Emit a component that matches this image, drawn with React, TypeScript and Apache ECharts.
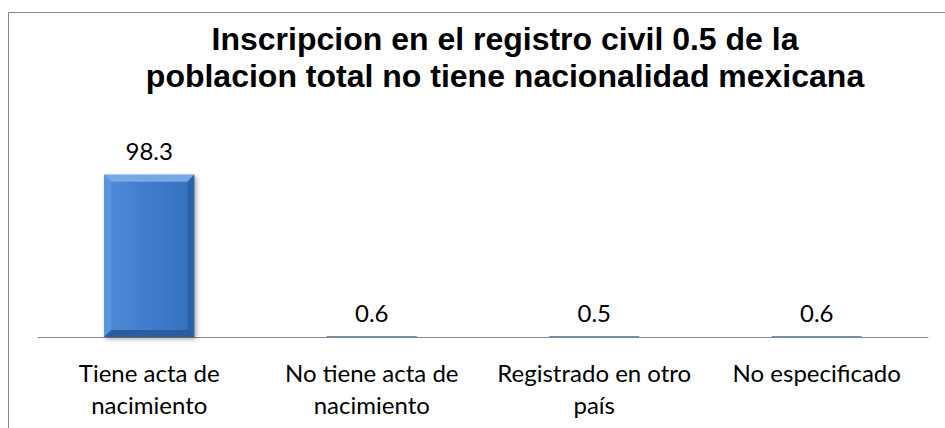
import React, { useEffect, useRef } from "react";
import * as echarts from "echarts";

const titleText = "Inscripcion en el registro civil 0.5 de la\npoblacion total no tiene nacionalidad mexicana";
const categories = [
  "Tiene acta de\nnacimiento",
  "No tiene acta de\nnacimiento",
  "Registrado en otro\npaís",
  "No especificado",
];
const values = [98.3, 0.6, 0.5, 0.6];

export default function App() {
  const ref = useRef<HTMLDivElement>(null);
  useEffect(() => {
    if (!ref.current) return;
    const chart = echarts.init(ref.current, undefined, { renderer: "svg" });
    const labelFont = "Lato";
    chart.setOption({
      animation: false,
      backgroundColor: "#ffffff",
      graphic: [
        {
          type: "rect",
          shape: { x: 8.5, y: 12.5, width: 1000, height: 1000 },
          style: { fill: "none", stroke: "#878787", lineWidth: 1 },
          silent: true,
          z: 0,
        },
        {
          type: "text",
          x: 505,
          y: 20,
          style: {
            text: titleText,
            textAlign: "center",
            textVerticalAlign: "top",
            font: 'bold 32px "Liberation Sans", Arial, sans-serif',
            lineHeight: 37,
            fill: "#000000",
          },
          z: 10,
        },
      ],
      grid: { left: 38, right: 17, top: 172, bottom: 91, containLabel: false },
      xAxis: {
        type: "category",
        data: categories,
        axisLine: { show: true, lineStyle: { color: "#878787", width: 1 } },
        axisTick: { show: false },
        axisLabel: {
          interval: 0,
          color: "#000000",
          fontFamily: labelFont,
          fontSize: 24,
          lineHeight: 32,
          margin: 19,
        },
        splitLine: { show: false },
      },
      yAxis: { type: "value", min: 0, max: 100, show: false, splitLine: { show: false } },
      series: [
        {
          type: "custom",
          data: values.map((v, i) => [i, v]),
          encode: { x: 0, y: 1 },
          renderItem: (params: any, api: any) => {
            const idx = api.value(0);
            const v = api.value(1);
            const top = api.coord([idx, v]);
            const base = api.coord([idx, 0]);
            const band = api.size([1, 0])[0];
            const bw = band * 0.405;
            const x0 = top[0] - bw / 2;
            const x1 = top[0] + bw / 2;
            const y0 = top[1];
            const y1 = base[1];
            const h = Math.max(y1 - y0, 1);
            const b = Math.min(7, h / 2);
            const big = h > 4;
            const children: any[] = [
              {
                type: "rect",
                shape: { x: x0, y: y1 - h, width: bw, height: h },
                style: big
                  ? {
                      fill: new echarts.graphic.LinearGradient(0, 0, 1, 0, [
                        { offset: 0, color: "#4f8bd6" },
                        { offset: 0.5, color: "#3f7dcc" },
                        { offset: 1, color: "#3570bd" },
                      ]),
                      shadowBlur: 5,
                      shadowOffsetX: 2,
                      shadowOffsetY: 2,
                      shadowColor: "rgba(0,0,0,0.35)",
                    }
                  : { fill: "#6f8fbf" },
              },
            ];
            if (big) {
              children.push(
                {
                  type: "polygon",
                  shape: { points: [[x0, y0], [x1, y0], [x1 - b, y0 + b], [x0 + b, y0 + b]] },
                  style: { fill: "#78a9e6" },
                },
                {
                  type: "polygon",
                  shape: { points: [[x0, y0], [x0 + b, y0 + b], [x0 + b, y1 - b], [x0, y1]] },
                  style: { fill: "#5a94dc" },
                },
                {
                  type: "polygon",
                  shape: { points: [[x1, y0], [x1, y1], [x1 - b, y1 - b], [x1 - b, y0 + b]] },
                  style: { fill: "#2d62a8" },
                },
                {
                  type: "polygon",
                  shape: { points: [[x0, y1], [x0 + b, y1 - b], [x1 - b, y1 - b], [x1, y1]] },
                  style: { fill: "#2b5c9e" },
                }
              );
            }
            children.push({
              type: "text",
              x: top[0],
              y: y0 - 12,
              style: {
                text: String(v),
                textAlign: "center",
                textVerticalAlign: "bottom",
                font: '24px "Lato", sans-serif',
                fill: "#000000",
              },
            });
            return { type: "group", children };
          },
          z: 5,
        },
      ],
    });
    return () => chart.dispose();
  }, []);
  return (
    <div
      ref={ref}
      style={{ position: "absolute", left: 0, top: 0, width: 945, height: 428 }}
    />
  );
}
